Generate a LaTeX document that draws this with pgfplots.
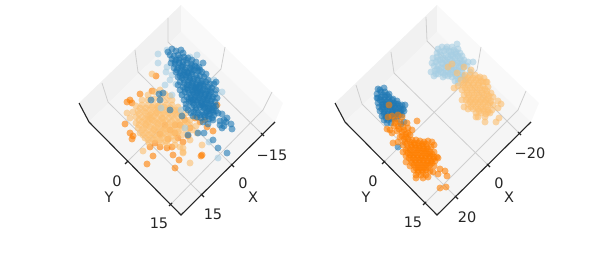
\documentclass[border=0pt]{standalone}
\usepackage{fontspec}
\setmainfont{DejaVu Sans}
\usepackage{pgfplots}
\pgfplotsset{compat=1.18}
\definecolor{lb}{HTML}{A6CEE3}
\definecolor{db}{HTML}{1F78B4}
\definecolor{lo}{HTML}{FDBF6F}
\definecolor{dko}{HTML}{FF7F00}
\definecolor{wl}{HTML}{F1F1F1}
\definecolor{wr}{HTML}{F9F9F9}
\definecolor{fl}{HTML}{F5F5F5}
\definecolor{gr}{HTML}{CFCFCF}
\definecolor{ax}{HTML}{262626}
\pgfplotsset{
 pts/.style={only marks,mark=*,mark size=3.5,mark options={draw opacity=0,fill opacity=.6,fill=#1}},
 pane/.style={fill=#1,draw=none},
 grd/.style={draw=gr,line width=.8pt,no marks},
 axl/.style={draw=ax,line width=1.1pt,no marks},
 tk/.style={draw=ax,line width=1.1pt,no marks},
}
\newcommand{\lab}[3]{\node[text=ax,font=\fontsize{14.5}{15}\selectfont] at (axis cs:#1,#2) {#3};}
\begin{document}
\begin{tikzpicture}
\useasboundingbox (0,0) rectangle (598pt,254pt);
\begin{axis}[at={(0,0)},anchor=south west,scale only axis,width=598pt,height=254pt,xmin=0,xmax=598,ymin=0,ymax=254,y dir=reverse,axis lines=none,clip=false]
% left panel panes
\addplot[pane=wl] coordinates {(181,5)(79,103)(89,122)(181,32)} --cycle;
\addplot[pane=wr] coordinates {(181,5)(283,103)(275,122)(181,32)} --cycle;
\addplot[pane=fl] coordinates {(181,32)(275,122)(181,215)(89,122)} --cycle;
\addplot[grd] coordinates {(168,18)(168,42)(262,134)};
\addplot[grd] coordinates {(135,50)(138,72)(232,165)};
\addplot[grd] coordinates {(102,83)(108,102)(202,195)};
\addplot[grd] coordinates {(225,47)(221,69)(127,162)};
\addplot[grd] coordinates {(272,92)(263,110)(171,204)};
\addplot[axl] coordinates {(79,103)(89,122)(181,215)(275,122)};
\addplot[tk] coordinates {(261,133)(264,136)};
\addplot[tk] coordinates {(231,164)(234,167)};
\addplot[tk] coordinates {(201,194)(204,197)};
\addplot[tk] coordinates {(128,161)(125,164)};
\addplot[tk] coordinates {(172,203)(169,206)};
% left panel points
\addplot[pts=dko] coordinates {(130,100)(127,102)(132,103)(140,94)(152,91)(156,76)(125,124)(130,133)(133,136)(132,139)(150,147)(153,156)(147,164)(175,168)(179,160)(173,155)(201,156)(172,147)(167,148)(213,131)(207,127)(202,155)(183,142)(217,105)(165,125)(175,125)(170,130)(175,133)(178,138)(168,139)(160,134)(185,120)(180,125)(190,128)(195,118)(200,122)(205,120)(155,143)(160,147)(188,136)};
\addplot[pts=lo] coordinates {(152,74)(148,95)(155,92)(160,90)(165,94)(170,96)(142,100)(148,100)(154,99)(160,98)(166,100)(172,100)(136,106)(142,105)(148,105)(154,105)(160,104)(166,105)(172,105)(178,107)(127,113)(133,112)(138,111)(144,111)(150,110)(156,110)(162,110)(168,110)(174,111)(180,112)(186,113)(130,118)(136,117)(142,117)(148,116)(154,116)(160,115)(166,115)(172,116)(178,117)(184,118)(190,120)(136,123)(142,122)(148,122)(154,121)(160,121)(166,121)(172,122)(178,123)(184,124)(190,125)(196,126)(138,128)(144,128)(150,127)(156,127)(162,127)(168,127)(174,128)(180,129)(186,130)(192,130)(140,133)(146,133)(152,133)(158,132)(164,133)(170,133)(176,134)(182,135)(190,140)(197,133)(145,138)(151,138)(157,138)(163,138)(169,139)(175,140)(149,143)(161,143)(167,144)(175,145)(180,147)(183,148)(183,153)(143,151)(190,163)(202,145)(183,152)(152,120)(158,124)(150,115)(162,118)(146,125)(156,113)(164,130)(154,130)(148,119)(158,108)
(140,108)(146,108)(152,107)(158,106)(164,107)(170,108)(176,110)(139,114)(145,113)(151,113)(157,112)(163,113)(169,113)(175,114)(181,115)(139,120)(145,119)(151,118)(157,118)(163,119)(169,118)(175,120)(181,121)(187,122)(139,125)(145,124)(151,124)(157,123)(163,123)(169,124)(175,125)(181,126)(142,130)(148,130)(154,129)(160,129)(166,129)(172,131)(178,132)(143,135)(149,135)(155,135)(161,135)(167,136)(173,136)(148,140)(154,140)(160,140)(166,141)};
\addplot[pts=lb] coordinates {(158,54)(158,63)(167,50)(166,72)(167,67)(170,80)(161,108)(172,95)(181,110)(165,85)(185,128)(218,158)(209,142)(172,75)(190,57)(197,55)(176,84)(182,94)(214,80)(222,92)};
\addplot[pts=db] coordinates {(168,52)(172,49)(176,51)(181,50)(183,53)(170,55)(174,56)(178,55)(172,59)(176,60)(180,58)(184,57)(188,58)(192,60)(196,62)(203,63)(171,63)(175,64)(179,63)(183,62)(187,63)(191,64)(195,66)(199,67)(174,68)(178,68)(182,67)(186,68)(190,68)(194,70)(198,71)(202,72)(176,72)(180,73)(184,72)(188,73)(192,74)(196,75)(200,76)(204,77)(178,77)(182,78)(186,77)(190,78)(194,79)(198,80)(202,81)(206,82)(214,84)(216,82)(180,82)(184,83)(188,82)(192,83)(196,84)(200,85)(204,86)(208,87)(212,88)(216,90)(183,87)(187,88)(191,87)(195,88)(199,89)(203,90)(207,91)(211,92)(215,94)(185,92)(189,93)(193,92)(197,93)(201,94)(205,95)(209,96)(213,97)(217,98)(187,97)(191,98)(195,97)(199,98)(203,99)(207,100)(211,101)(215,102)(189,102)(193,103)(197,102)(201,103)(205,104)(209,105)(213,106)(216,106)(192,107)(196,108)(200,107)(204,108)(208,109)(212,110)(216,111)(186,108)(194,112)(198,113)(202,112)(206,113)(210,114)(214,115)(218,113)(222,114)(197,117)(201,118)(205,117)(209,119)(213,120)(220,121)(224,120)(227,118)(203,122)(208,124)(220,125)(224,126)(231,124)(232,129)(222,128)(226,122)(213,140)(218,148)(227,153)(204,133)(198,133)(188,135)(159,94)(163,93)(151,100)(160,100)(170,110)(182,116)(190,80)(195,90)(200,95)(205,100)(210,108)(192,72)(186,75)(197,85)
(181,66)(185,70)(189,76)(193,81)(197,78)(201,83)(189,85)(193,86)(197,91)(201,92)(205,89)(209,94)(191,95)(195,100)(199,105)(203,106)(207,103)(211,104)(193,100)(197,96)(201,101)(205,107)(209,111)(213,112)(196,110)(200,115)(204,115)(208,116)(212,118)(214,108)(212,99)(208,98)(204,97)(200,91)(196,87)(192,90)(188,90)(184,80)(180,76)(177,70)(175,62)(179,60)(183,65)(187,72)(191,70)(181,71)(187,85)(194,94)(199,87)(203,84)(206,94)(210,90)(207,111)(202,105)(198,100)(194,105)(191,101)(189,99)(185,89)(183,75)
(186,60)(192,66)(197,68)(200,70)(206,74)(208,80)(210,84)(178,85)(180,90)(182,95)(184,100)(186,104)(188,110)(191,113)(193,116)};
% right panel panes
\addplot[pane=wl] coordinates {(437,5)(335,103)(345,122)(437,32)} --cycle;
\addplot[pane=wr] coordinates {(437,5)(539,103)(531,122)(437,32)} --cycle;
\addplot[pane=fl] coordinates {(437,32)(531,122)(437,215)(345,122)} --cycle;
\addplot[grd] coordinates {(426,17)(427,41)(519,133)};
\addplot[grd] coordinates {(391,52)(394,73)(488,165)};
\addplot[grd] coordinates {(356,85)(362,104)(456,197)};
\addplot[grd] coordinates {(481,47)(477,70)(384,162)};
\addplot[grd] coordinates {(526,91)(518,110)(425,203)};
\addplot[axl] coordinates {(335,103)(345,122)(437,215)(531,122)};
\addplot[tk] coordinates {(518,132)(521,135)};
\addplot[tk] coordinates {(487,164)(490,167)};
\addplot[tk] coordinates {(455,196)(458,199)};
\addplot[tk] coordinates {(385,161)(382,164)};
\addplot[tk] coordinates {(426,202)(423,205)};
% right panel points
\addplot[pts=lb] coordinates {(438,49)(442,47)(447,47)(452,47)(457,44)(444,51)(449,51)(454,50)(458,49)(460,53)(437,53)(433,58)(437,57)(441,55)(446,55)(451,55)(456,54)(462,56)(432,63)(436,62)(440,60)(445,60)(450,59)(455,58)(460,59)(464,60)(473,62)(468,62)(434,66)(438,66)(443,64)(448,64)(453,63)(458,63)(463,64)(467,66)(431,72)(435,71)(439,70)(444,68)(449,68)(454,68)(459,67)(463,68)(434,76)(438,74)(443,73)(448,72)(453,72)(458,71)(462,72)(443,77)(448,76)(452,77)(456,76)(455,81)(458,83)(460,78)(464,76)(470,72)(465,80)
(440,52)(446,49)(451,52)(456,52)(443,58)(448,57)(453,56)(458,56)(438,60)(442,63)(447,62)(452,61)(457,61)(462,62)(437,69)(441,68)(446,66)(451,66)(456,65)(461,66)(436,74)(441,72)(446,71)(451,70)(456,70)(445,75)(450,74)(455,74)(458,79)(462,75)};
\addplot[pts=db] coordinates {(378,89)(384,88)(381,92)(385,92)(389,94)(377,94)(377,98)(381,97)(385,97)(389,97)(393,99)(397,101)(378,103)(382,102)(386,102)(390,102)(394,103)(398,104)(402,105)(405,105)(379,107)(383,107)(387,107)(391,107)(395,108)(399,108)(403,109)(380,111)(384,112)(388,111)(392,112)(396,112)(400,112)(404,111)(382,116)(386,116)(390,116)(394,116)(398,116)(402,115)(384,120)(388,120)(392,119)(397,119)(387,123)(391,123)(401,124)(404,122)(398,147)(386,105)(392,105)(384,100)(390,110)
(380,90)(383,95)(387,95)(380,100)(384,104)(388,100)(392,100)(396,104)(400,106)(382,105)(385,110)(389,105)(393,110)(397,110)(401,110)(384,114)(388,114)(392,114)(396,114)(400,114)(386,118)(390,118)(394,118)(382,109)(378,98)(394,106)};
\addplot[pts=lo] coordinates {(448,67)(452,64)(457,73)(464,67)(471,70)(465,75)(470,75)(475,75)(480,77)(484,78)(461,80)(466,80)(471,80)(476,80)(481,81)(486,82)(458,86)(463,85)(468,85)(473,85)(478,85)(483,86)(488,87)(454,88)(462,90)(467,90)(472,90)(477,90)(482,90)(487,91)(491,93)(464,95)(469,95)(474,95)(479,95)(484,95)(489,96)(493,97)(466,100)(471,100)(476,100)(481,100)(486,100)(491,101)(462,100)(468,104)(473,104)(478,104)(483,104)(488,105)(493,105)(464,107)(468,109)(473,109)(478,109)(483,109)(488,110)(492,110)(476,113)(481,113)(486,114)(490,113)(478,117)(485,117)(476,117)(498,101)(501,104)(498,108)(485,122)(499,118)(496,122)(487,82)
(468,78)(473,78)(478,78)(483,82)(464,83)(469,83)(474,83)(479,83)(465,88)(470,88)(475,88)(480,88)(485,89)(467,93)(472,93)(477,93)(482,93)(487,94)(468,98)(473,98)(478,98)(483,98)(488,99)(470,102)(475,102)(480,102)(485,102)(490,103)(471,107)(476,107)(481,107)(486,107)(479,111)(484,111)(488,112)};
\addplot[pts=dko] coordinates {(389,105)(398,115)(392,116)(388,117)(402,117)(395,120)(400,122)(407,123)(387,129)(390,130)(394,126)(398,126)(403,127)(408,128)(412,130)(417,121)(392,133)(397,131)(402,132)(406,134)(410,135)(393,143)(398,142)(400,137)(404,139)(408,139)(412,140)(416,140)(420,141)(424,142)(428,141)(432,142)(403,145)(407,144)(411,145)(415,145)(419,146)(423,146)(427,147)(431,147)(434,145)(403,152)(406,150)(410,150)(414,150)(418,150)(422,151)(426,151)(430,152)(434,152)(437,157)(406,156)(410,155)(414,155)(418,155)(422,156)(426,156)(430,156)(434,157)(406,162)(411,160)(415,160)(419,160)(423,160)(427,161)(431,161)(435,161)(438,158)(410,166)(414,165)(418,165)(422,165)(426,165)(430,165)(434,166)(440,169)(445,171)(447,176)(414,170)(418,170)(422,170)(426,170)(430,171)(416,175)(421,175)(426,175)(416,178)(423,178)(428,177)(433,172)(438,174)(440,188)(446,187)
(408,148)(412,147)(416,148)(420,148)(424,149)(428,149)(408,153)(412,153)(416,153)(420,153)(424,153)(428,154)(432,154)(409,158)(413,158)(417,158)(421,158)(425,158)(429,158)(433,159)(412,163)(416,163)(420,163)(424,163)(428,163)(432,163)(416,168)(420,168)(424,168)(428,168)(418,172)(423,172)(405,142)(410,142)(414,143)(418,143)(422,144)(426,144)(395,123)(399,129)(404,130)(408,133)(402,136)(406,137)};
% labels
\lab{272}{155}{−15}
\lab{243}{183}{0}
\lab{213}{214}{15}
\lab{253}{197}{X}
\lab{117}{181}{0}
\lab{109}{197}{Y}
\lab{159}{223}{15}
\lab{530}{153}{−20}
\lab{499}{183}{0}
\lab{467}{217}{20}
\lab{509}{197}{X}
\lab{373}{181}{0}
\lab{366}{197}{Y}
\lab{413}{222}{15}
\end{axis}
\end{tikzpicture}
\end{document}
